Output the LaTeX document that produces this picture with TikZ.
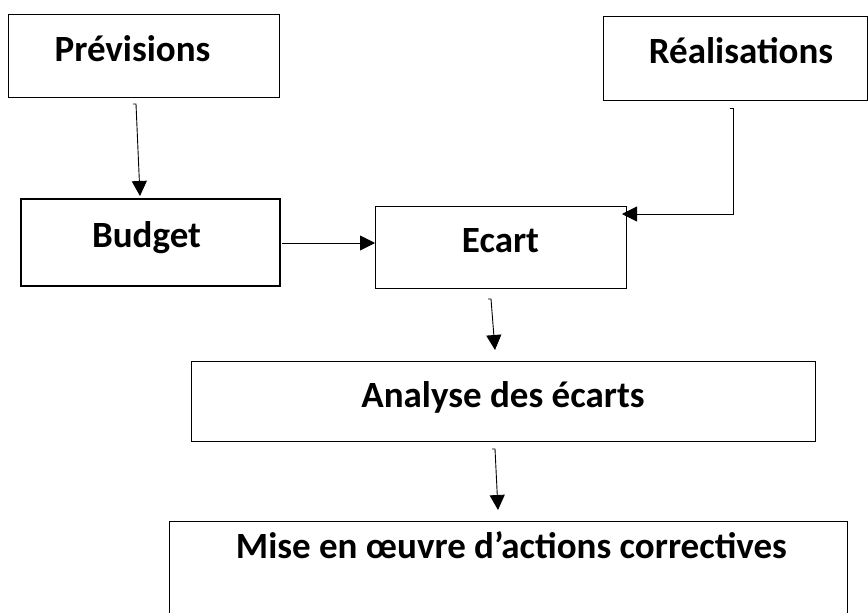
\documentclass[tikz,border=0pt]{standalone}
\usepackage{fontspec}
\setmainfont{Carlito}
\usetikzlibrary{arrows.meta,calc}
\begin{document}
\begin{tikzpicture}[x=1pt,y=-1pt]
\tikzset{
 box/.style={draw=black, line width=0.9pt, inner sep=0pt, outer sep=0pt},
 lbl/.style={font=\bfseries\fontsize{37}{44}\selectfont, anchor=base, inner sep=0pt},
 arr/.style={draw=black, line width=0.9pt, -{Triangle[width=15pt,length=15pt]}}
}
\useasboundingbox (0,0) rectangle (868,613);
\clip (0,0) rectangle (868,613);
% boxes
\node[box, minimum width=271pt, minimum height=83pt] (prev) at (143.5,55.5) {};
\node[box, line width=1.8pt, minimum width=259pt, minimum height=87pt] (budget) at (150.5,242.5) {};
\node[box, minimum width=251pt, minimum height=82pt] (ecart) at (500.5,247) {};
\node[box, minimum width=264pt, minimum height=84pt] (real) at (735,58) {};
\node[box, minimum width=624pt, minimum height=80pt] (analyse) at (503,401) {};
\node[box, minimum width=678pt, minimum height=119pt] (mise) at (508,580.5) {};
% labels
\node[lbl] (tprev) at (132.5,61) {Prévisions};
\node[lbl] (tbudget) at (146.5,247) {Budget};
\node[lbl] (tecart) at (500.5,252) {Ecart};
\node[lbl] (treal) at (741,63) {Réalisations};
\node[lbl] (tanalyse) at (503,407) {Analyse des écarts};
\node[lbl] (tmise) at (511.5,558) {Mise en œuvre d’actions correctives};
% connectors
\draw[arr] ($(prev.south)+(-10.5,7)$) -- ($(prev.south)+(-7.5,7)$) -- ($(budget.north)+(-10.5,-3)$);
\draw[arr] ($(budget.east)+(2,0.5)$) -- ($(ecart.west)+(0,-4)$);
\draw[arr] ($(real.south)+(-5,8)$) -- ($(real.south)+(-2,8)$) |- ($(ecart.east)+(-4,-33)$);
\draw[arr] ($(ecart.south)+(-12.5,11)$) -- ($(ecart.south)+(-9.5,11)$) -- ($(analyse.north)+(-8,-11)$);
\draw[arr] ($(analyse.south)+(-11,8)$) -- ($(analyse.south)+(-8,8)$) -- ($(mise.north)+(-10,-11)$);
\end{tikzpicture}
\end{document}
